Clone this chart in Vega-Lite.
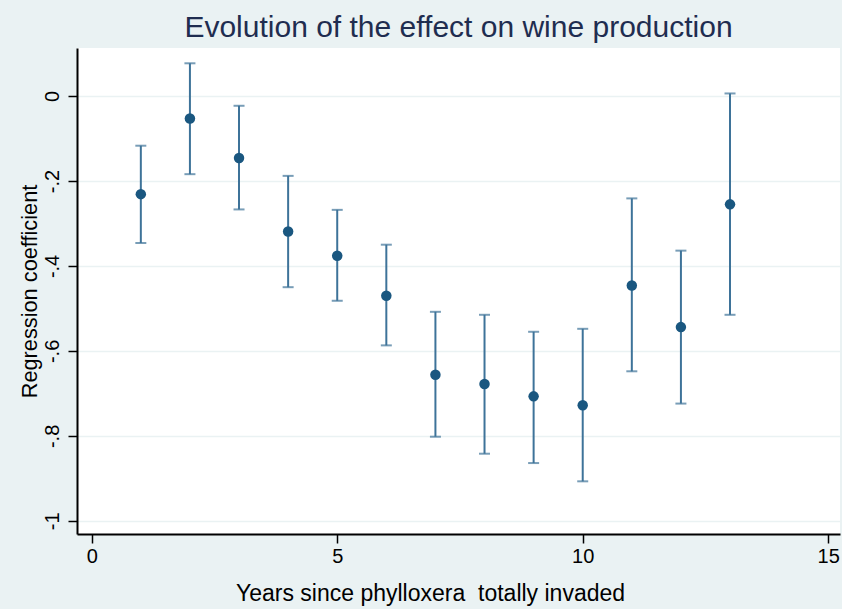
{
  "$schema": "https://vega.github.io/schema/vega-lite/v6.json",
  "width": 763,
  "height": 486,
  "autosize": {"type": "none"},
  "padding": {"left": 77, "top": 48, "right": 2, "bottom": 75},
  "background": "#eaf2f3",
  "title": {
    "text": "Evolution of the effect on wine production",
    "font": "Liberation Sans",
    "fontSize": 30,
    "fontWeight": "normal",
    "color": "#1f2d50",
    "anchor": "middle",
    "offset": 5
  },
  "config": {
    "view": {"fill": "white", "stroke": null},
    "axis": {
      "labelFont": "Liberation Sans",
      "titleFont": "Liberation Sans",
      "labelColor": "black",
      "titleColor": "black",
      "titleFontWeight": "normal",
      "domainColor": "black",
      "domainWidth": 2,
      "domainOpacity": 1,
      "tickColor": "black",
      "tickWidth": 1.5,
      "tickSize": 9
    }
  },
  "data": {
    "values": [
      {"year": 1, "coef": -0.231, "lo": -0.346, "hi": -0.117},
      {"year": 2, "coef": -0.053, "lo": -0.184, "hi": 0.077},
      {"year": 3, "coef": -0.146, "lo": -0.267, "hi": -0.023},
      {"year": 4, "coef": -0.319, "lo": -0.450, "hi": -0.188},
      {"year": 5, "coef": -0.376, "lo": -0.482, "hi": -0.268},
      {"year": 6, "coef": -0.470, "lo": -0.587, "hi": -0.350},
      {"year": 7, "coef": -0.656, "lo": -0.802, "hi": -0.508},
      {"year": 8, "coef": -0.678, "lo": -0.842, "hi": -0.515},
      {"year": 9, "coef": -0.707, "lo": -0.864, "hi": -0.555},
      {"year": 10, "coef": -0.728, "lo": -0.907, "hi": -0.548},
      {"year": 11, "coef": -0.446, "lo": -0.648, "hi": -0.241},
      {"year": 12, "coef": -0.544, "lo": -0.724, "hi": -0.364},
      {"year": 13, "coef": -0.255, "lo": -0.515, "hi": 0.006}
    ]
  },
  "encoding": {
    "x": {
      "field": "year",
      "type": "quantitative",
      "scale": {"domain": [-0.3, 15.24], "nice": false, "zero": false},
      "axis": {
        "title": "Years since phylloxera\u00a0 totally invaded",
        "values": [0, 5, 10, 15],
        "grid": false,
        "labelFontSize": 20,
        "labelPadding": 3,
        "labelFlush": false,
        "titleFontSize": 23,
        "titleX": 353,
        "titleY": 66,
        "titleAlign": "center",
        "titleBaseline": "alphabetic"
      }
    }
  },
  "layer": [
    {
      "mark": {"type": "errorbar", "ticks": {"size": 11}, "color": "#3e7399", "thickness": 2},
      "encoding": {
        "y": {
          "field": "lo",
          "type": "quantitative",
          "scale": {"domain": [-1.031, 0.113], "nice": false, "zero": false},
          "axis": {
            "title": "Regression coefficient",
            "values": [0, -0.2, -0.4, -0.6, -0.8, -1],
            "labelExpr": "datum.value == 0 ? '0' : datum.value == -1 ? '-1' : '-.' + toString(round(-datum.value * 10))",
            "grid": true,
            "gridColor": "#eaf2f3",
            "gridWidth": 1.5,
            "labelAngle": -90,
            "labelAlign": "center",
            "labelBaseline": "alphabetic",
            "labelPadding": 10,
            "labelFontSize": 20,
            "titleFontSize": 21.75,
            "titleAngle": -90,
            "titleX": -41,
            "titleY": 243,
            "titleAlign": "center",
            "titleBaseline": "alphabetic"
          }
        },
        "y2": {"field": "hi"}
      }
    },
    {
      "mark": {"type": "point", "filled": true, "size": 110, "color": "#1a5780", "opacity": 1},
      "encoding": {
        "y": {"field": "coef", "type": "quantitative"}
      }
    }
  ]
}
